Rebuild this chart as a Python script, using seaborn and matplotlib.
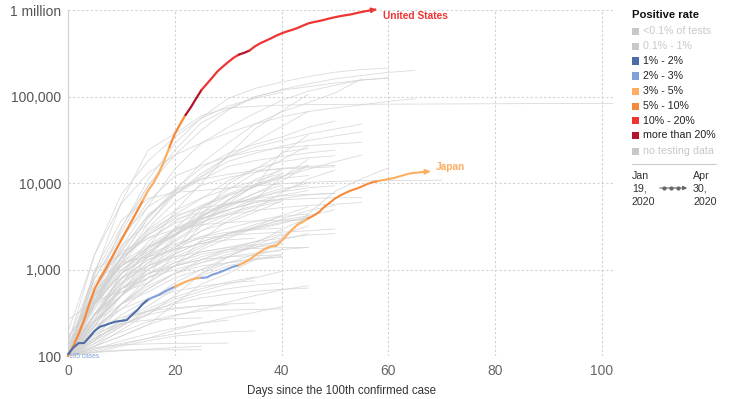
import numpy as np
import pandas as pd
import matplotlib
matplotlib.use("Agg")
import matplotlib.pyplot as plt
import seaborn as sns
from matplotlib.patches import Rectangle, FancyArrowPatch
from matplotlib.lines import Line2D
from matplotlib.ticker import NullLocator, FixedLocator

# ---------------- data ----------------
# highlighted countries: cumulative cases per day since 100th case
us_cases = [100, 130, 180, 260, 400, 600, 780, 1000, 1300, 1700, 2200, 2860, 3700, 4800,
            6300, 8200, 10000, 13000, 18000, 26000, 37000, 48000, 61000, 75000, 95000,
            119000, 140000, 165000, 195000, 222000, 250000, 280000, 305000, 320000, 340000,
            380000, 412000, 440000, 470000, 505000, 537000, 565000, 590000, 620000, 660000,
            700000, 725000, 745000, 770000, 800000, 825000, 850000, 870000, 890000, 920000,
            950000, 975000, 1000000]
# positive-rate category index per day (see legend order)
us_rate = [5, 5, 5, 5, 5, 5, 5, 5, 5, 5, 5, 5, 5, 5, 4, 4, 4, 4, 4, 5, 5, 5, 7, 7, 7, 6,
           6, 6, 6, 6, 6, 6, 7, 7, 6, 6, 6, 6, 6, 6, 6, 6, 6, 6, 6, 6, 6, 6, 6, 6, 6, 6,
           6, 6, 6, 6, 6, 6]

jp_cases = [105, 125, 141, 141, 165, 195, 218, 228, 240, 250, 255, 260, 300, 340, 400, 450,
            480, 507, 550, 590, 632, 680, 720, 760, 790, 800, 810, 870, 910, 960, 1020, 1080,
            1120, 1200, 1300, 1450, 1600, 1750, 1850, 1870, 2150, 2500, 2900, 3300, 3560,
            3900, 4200, 4600, 5300, 5900, 6600, 7200, 7700, 8200, 8600, 9100, 9700, 10200,
            10500, 10800, 11100, 11400, 11900, 12400, 12900, 13100, 13300, 13500]
jp_rate = [2, 2, 2, 2, 2, 2, 2, 2, 2, 2, 2, 2, 2, 2, 2, 3, 3, 3, 3, 3, 4, 4, 4, 4, 4, 3, 3,
           3, 3, 3, 3, 3, 4, 4, 4, 4, 4, 4, 4, 4, 4, 4, 4, 4, 4, 5, 5, 5, 5, 5, 5, 5, 5, 5,
           5, 5, 5, 5, 4, 4, 4, 4, 4, 4, 4, 4, 4, 4]

# China (long flat line)
china_days = [0, 5, 10, 15, 20, 25, 30, 35, 40, 45, 50, 55, 60, 65, 70, 75, 80, 85, 90, 95, 100, 102]
china_cases = [100, 900, 6000, 24000, 37000, 60000, 74000, 77000, 79500, 80500, 81000, 81300,
               81500, 81700, 82000, 82200, 82500, 82700, 82900, 83000, 83100, 83100]

# other countries, sampled every 5 days from day 0
grey_top = [
    [150, 890, 3100, 9200, 21000, 41000, 70000, 98000, 120000, 140000, 160000, 175000, 190000, 200000],
    [120, 590, 3000, 11000, 28600, 57000, 95000, 124000, 147000, 170000, 191000, 205000, 213000],
    [100, 460, 1400, 3900, 8100, 17000, 29000, 48000, 66000, 85000, 110000, 160000],
    [130, 800, 2700, 9300, 24000, 50000, 72000, 100000, 118000, 130000, 143000, 155000, 163000],
    [100, 420, 1800, 5400, 14500, 29000, 44000, 64000, 90000, 115000, 135000, 155000, 165000],
    [190, 1500, 7400, 18000, 34000, 56000, 78000, 95000, 112000],
    [100, 250, 660, 1800, 4700, 10000, 21000, 42000, 68000, 106000],
    [139, 1500, 5800, 13000, 21000, 29000, 38000, 48000, 58000, 67000, 74000, 80000, 88000, 94000],
    [100, 600, 1900, 3400, 7900, 12000, 20000, 30000, 45000, 67000],
    [100, 400, 1400, 4000, 8500, 15000, 22000, 28000, 34000, 44000, 52000],
    [170, 400, 1200, 3400, 7300, 13000, 20000, 26000, 31000, 37000, 42000, 48000],
    [130, 600, 1700, 4200, 7400, 11700, 17800, 22000, 26500, 31000, 35000, 39000],
    [110, 500, 2200, 6100, 12000, 16000, 20000, 23500, 25500, 27000, 28300, 29500],
    [100, 250, 500, 1100, 2500, 5000, 8400, 13000, 18500, 27000],
    [100, 400, 600, 1000, 1600, 4300, 9800, 14400, 21600, 36000],
    [110, 450, 1600, 4300, 7400, 11000, 15500, 18100, 20200, 22300, 24000],
    [100, 530, 1400, 2300, 3400, 4450, 7200, 9000, 22700, 25000],
    [130, 560, 1330, 2600, 4300, 6600, 10600, 14700, 17600, 19600, 20600],
    [160, 500, 1100, 1800, 2500, 4000, 6400, 9100, 11900, 14400, 17600, 21000],
    [100, 270, 770, 1300, 1800, 2800, 4000, 6400, 11600, 18800],
    [120, 370, 990, 1700, 2800, 4200, 5800, 9500, 14700],
    [104, 980, 3700, 6600, 7800, 8200, 8800, 9200, 9800, 10200, 10450, 10600, 10670, 10720, 10770],
]
grey_mid = [
    [100, 130, 170, 230, 400, 680, 900, 1300, 2300, 4400, 8000, 11200, 14900],
    [100, 500, 1200, 1900, 2900, 4300, 5700, 7600, 10500, 16000],
    [100, 430, 1300, 2500, 4000, 5500, 7500, 9700, 11800, 16000],
    [100, 430, 1200, 3000, 6000, 9400, 11600, 13300, 14800, 15600, 16000],
    [100, 800, 2400, 5300, 8300, 11100, 12600, 13900, 14600, 15000, 15400],
    [100, 150, 400, 700, 1500, 3300, 6300, 11000, 14000],
    [260, 440, 550, 700, 1100, 2200, 3700, 5000, 7700, 11200, 14000],
    [100, 430, 1400, 2900, 4800, 6700, 8600, 10500, 12900],
    [120, 260, 900, 2100, 3600, 5200, 7200, 9200, 11300, 12200],
    [100, 200, 400, 800, 2400, 4100, 6300, 9300, 12500],
    [100, 500, 1100, 1800, 2500, 3800, 4800, 6600, 8200, 10100],
    [100, 800, 1100, 1600, 2600, 4100, 5600, 6800, 7900, 8800, 9300],
    [100, 220, 650, 1200, 2200, 3400, 5300, 6900, 8700, 9300],
    [110, 300, 700, 1400, 3000, 3900, 4900, 6000, 7200, 8200],
    [110, 310, 800, 1600, 2500, 3800, 5400, 7600, 9400],
    [100, 1000, 1500, 2500, 3800, 4600, 5700, 6600, 7100, 7400, 7600],
    [100, 300, 900, 1800, 2800, 3900, 4900, 5900, 6600, 7300, 7600],
    [100, 400, 900, 1400, 2100, 3200, 4300, 5300, 6100],
    [110, 400, 1000, 1500, 2500, 3500, 4500, 5500, 6500],
    [100, 300, 700, 1200, 1800, 2800, 3500, 4600, 6200],
    [100, 200, 500, 1500, 3000, 5400, 7100],
    [100, 400, 1100, 2800, 4200, 5100, 5800, 6200, 6400, 6600, 6750, 6770],
    [130, 550, 1100, 1800, 2600, 3600, 4300, 4800, 5200, 5500, 5700, 5950],
    [100, 300, 800, 1100, 1500, 2100, 2600, 2900, 3400, 4100],
    [100, 200, 400, 700, 1100, 1700, 2300, 3000, 3800, 4800, 5500],
    [100, 300, 500, 1000, 1400, 1900, 2600, 3100, 3700, 4200, 4900],
    [100, 220, 600, 900, 1300, 1800, 2600, 3300, 4100, 4400],
    [100, 230, 500, 1000, 1500, 2100, 2600, 3000, 3500, 4000],
    [100, 160, 230, 300, 500, 900, 1400, 2000, 2900, 4000],
    [100, 400, 1200, 1400, 1700, 2000, 2400, 3100, 4200, 5300],
    [100, 700, 1600, 2300, 2900, 3300, 3500, 3650, 3700, 3750],
    [110, 400, 900, 1400, 1900, 2300, 2500, 2600, 2700, 2800, 2950],
    [100, 300, 600, 800, 1200, 1600, 1800, 2100, 2300, 2500, 2600],
    [100, 200, 400, 600, 900, 1300, 1700, 2100, 2600],
    [100, 250, 500, 900, 1100, 1300, 1600, 1800, 2000],
    [100, 250, 500, 900, 1200, 1500, 1700, 1750, 1790, 1795],
    [100, 300, 550, 800, 1000, 1200, 1400, 1550, 1650],
    [100, 300, 600, 900, 1100, 1300, 1400, 1450, 1470],
    [100, 250, 400, 650, 900, 1100, 1200, 1300, 1400],
    [100, 200, 400, 550, 800, 1000, 1200, 1350, 1400],
    [100, 250, 500, 800, 1100, 1400, 1700, 1900, 2100],
    [100, 300, 700, 1100, 1400, 1600, 1800, 1950],
    [100, 200, 350, 600, 900, 1200, 1500, 1800, 2200, 2600],
    [100, 180, 300, 450, 650, 850, 1100, 1300, 1500],
    [100, 350, 800, 1300, 1700, 2000, 2200, 2300],
    [100, 150, 260, 430, 700, 1000, 1400, 1900, 2500, 3200],
    [100, 400, 900, 1500, 2000, 2400, 2700, 2900, 3000],
    [100, 250, 600, 1100, 1700, 2400, 3000, 3600, 4200],
    [100, 160, 240, 380, 600, 900, 1200, 1500, 1700, 1800],
]
grey_low = [
    [100, 120, 150, 180, 210, 240, 260],
    [100, 160, 230, 300, 350, 380, 400, 410],
    [100, 130, 200, 310, 420, 520, 600, 660, 700],
    [100, 110, 115, 120, 125, 130],
    [100, 140, 190, 250, 300, 330, 340, 345, 350],
    [100, 200, 280, 330, 360, 380, 390],
    [100, 150, 220, 350, 480, 600, 720, 820],
    [100, 120, 140, 160, 180, 200],
    [100, 170, 260, 330, 400, 470, 520, 560, 590, 610],
    [100, 130, 170, 230, 290, 350, 420, 500, 580, 650],
    [100, 220, 350, 460, 560, 640, 700, 740],
    [100, 110, 130, 150, 170, 180, 190, 195],
    [100, 180, 240, 260, 270, 275],
    [100, 140, 220, 330, 450, 560, 680, 800, 950],
    [100, 115, 135, 160, 200, 240, 280, 320, 370],
    [100, 112, 117, 118, 118, 118],
    [100, 125, 135, 138, 140, 140, 141],
]

rate_labels = ["<0.1% of tests", "0.1% - 1%", "1% - 2%", "2% - 3%", "3% - 5%",
               "5% - 10%", "10% - 20%", "more than 20%", "no testing data"]
rate_colors = ["#c8c8c8", "#c8c8c8", "#4e6da8", "#7fa0d8", "#fdae61",
               "#f68a3c", "#ef3434", "#b5132b", "#c8c8c8"]
rate_text_colors = ["#c8c8c8", "#c8c8c8", "#222222", "#222222", "#222222",
                    "#222222", "#222222", "#222222", "#c8c8c8"]

x_ticks = [0, 20, 40, 60, 80, 100]
y_ticks = [100, 1000, 10000, 100000, 1000000]
y_tick_labels = ["100", "1,000", "10,000", "100,000", "1 million"]

# ---------------- build frames ----------------
rows = []
cid = 0
for group in (grey_top, grey_mid, grey_low):
    for series in group:
        for i, v in enumerate(series):
            rows.append((cid, i * 5, v))
        cid += 1
for d, v in zip(china_days, china_cases):
    rows.append((cid, d, v))
grey_df = pd.DataFrame(rows, columns=["country", "day", "cases"])

# ---------------- figure ----------------
sns.set_theme(style="white")
plt.rcParams["font.family"] = ["Liberation Sans", "DejaVu Sans"]

W, H = 729, 399
fig = plt.figure(figsize=(W / 100, H / 100), dpi=100)
ax = fig.add_axes([68 / W, 43 / H, (614 - 68) / W, (356 - 10) / H])
ax.set_yscale("log")

sns.lineplot(data=grey_df, x="day", y="cases", units="country", estimator=None,
             color="#d2d2d2", lw=0.6, alpha=0.8, ax=ax, legend=False, sort=False)


def draw_highlight(cases, rates, lw):
    days = np.arange(len(cases))
    start = 0
    for i in range(1, len(cases) + 1):
        if i == len(cases) or rates[i] != rates[start]:
            end = min(i, len(cases) - 1)
            seg = pd.DataFrame({"day": days[start:end + 1], "cases": cases[start:end + 1]})
            n0 = len(ax.lines)
            sns.lineplot(data=seg, x="day", y="cases", color=rate_colors[rates[start]],
                         lw=lw, ax=ax, legend=False, zorder=5, estimator=None)
            for ln in ax.lines[n0:]:
                ln.set_clip_on(False)
                ln.set_solid_capstyle("round")
            start = i


draw_highlight(us_cases, us_rate, 1.6)
draw_highlight(jp_cases, jp_rate, 1.5)

# arrow heads
us_last = len(us_cases) - 1
ax.annotate("", xy=(us_last + 1.3, us_cases[-1] * 1.03), xytext=(us_last, us_cases[-1]),
            arrowprops=dict(arrowstyle="-|>", color="#ef3434", lw=1.3, mutation_scale=7),
            zorder=6, annotation_clip=False)
jp_last = len(jp_cases) - 1
ax.annotate("", xy=(jp_last + 1.4, jp_cases[-1] * 1.01), xytext=(jp_last, jp_cases[-1]),
            arrowprops=dict(arrowstyle="-|>", color="#fdae61", lw=1.3, mutation_scale=7),
            zorder=6, annotation_clip=False)
ax.text(59.0, 850000, "United States", color="#ef3434", fontsize=7.3, fontweight="bold",
        va="center", ha="left")
ax.text(68.9, 15300, "Japan", color="#fdae61", fontsize=7.3, fontweight="bold",
        va="center", ha="left")
ax.text(0.25, 100, "105 cases", color="#7fa0d8", fontsize=4.8, va="center", ha="left",
        zorder=7)

# axes styling
ax.set_xlim(0, 102.25)
ax.set_ylim(100, 1000000)
ax.xaxis.set_major_locator(FixedLocator(x_ticks))
ax.set_xticklabels([str(t) for t in x_ticks])
ax.yaxis.set_major_locator(FixedLocator(y_ticks))
ax.yaxis.set_minor_locator(NullLocator())
ax.set_yticklabels(y_tick_labels)
ax.grid(True, which="major", ls=(0, (2, 2)), color="#d2d2d2", lw=0.8)
ax.set_axisbelow(True)
for s in ("top", "right", "bottom"):
    ax.spines[s].set_visible(False)
ax.spines["left"].set_color("#d0d0d0")
ax.spines["left"].set_linewidth(0.8)
ax.tick_params(axis="both", length=0, labelsize=10)
ax.tick_params(axis="x", colors="#666666", pad=6)
ax.tick_params(axis="y", colors="#555555", pad=5)
ax.set_ylabel("")
ax.set_xlabel("Days since the 100th confirmed case", fontsize=8.3, color="#333333",
              labelpad=5)

# legend (figure coords)
fig.text(632 / W, 1 - 15 / H, "Positive rate", fontsize=8.1, fontweight="bold",
         color="#111111", va="center", ha="left")
row_y = [31, 46, 61, 76, 91, 106, 120.5, 135.5, 151]
for lab, col, tcol, yy in zip(rate_labels, rate_colors, rate_text_colors, row_y):
    fig.patches.append(Rectangle((632 / W, 1 - (yy + 3.5) / H), 7 / W, 7 / H,
                                 transform=fig.transFigure, facecolor=col,
                                 edgecolor="none"))
    fig.text(643 / W, 1 - yy / H, lab, fontsize=7.7, color=tcol, va="center", ha="left")

fig.add_artist(Line2D([632 / W, 716 / W], [1 - 163.5 / H, 1 - 163.5 / H],
                      transform=fig.transFigure, color="#cccccc", lw=0.8))
fig.text(632 / W, 1 - 171 / H, "Jan\n19,\n2020", fontsize=7.7, color="#333333",
         va="top", ha="left", linespacing=1.35)
fig.text(693 / W, 1 - 171 / H, "Apr\n30,\n2020", fontsize=7.7, color="#333333",
         va="top", ha="left", linespacing=1.35)
fig.patches.append(FancyArrowPatch((657 / W, 1 - 188 / H), (690 / W, 1 - 188 / H),
                                   transform=fig.transFigure, arrowstyle="-|>",
                                   mutation_scale=6, color="#666666", lw=0.8))
fig.add_artist(Line2D([664 / W, 671 / W, 678 / W], [1 - 188 / H] * 3,
                      transform=fig.transFigure, color="#666666", lw=0,
                      marker="o", markersize=2))

fig.savefig("out.png", dpi=100)
